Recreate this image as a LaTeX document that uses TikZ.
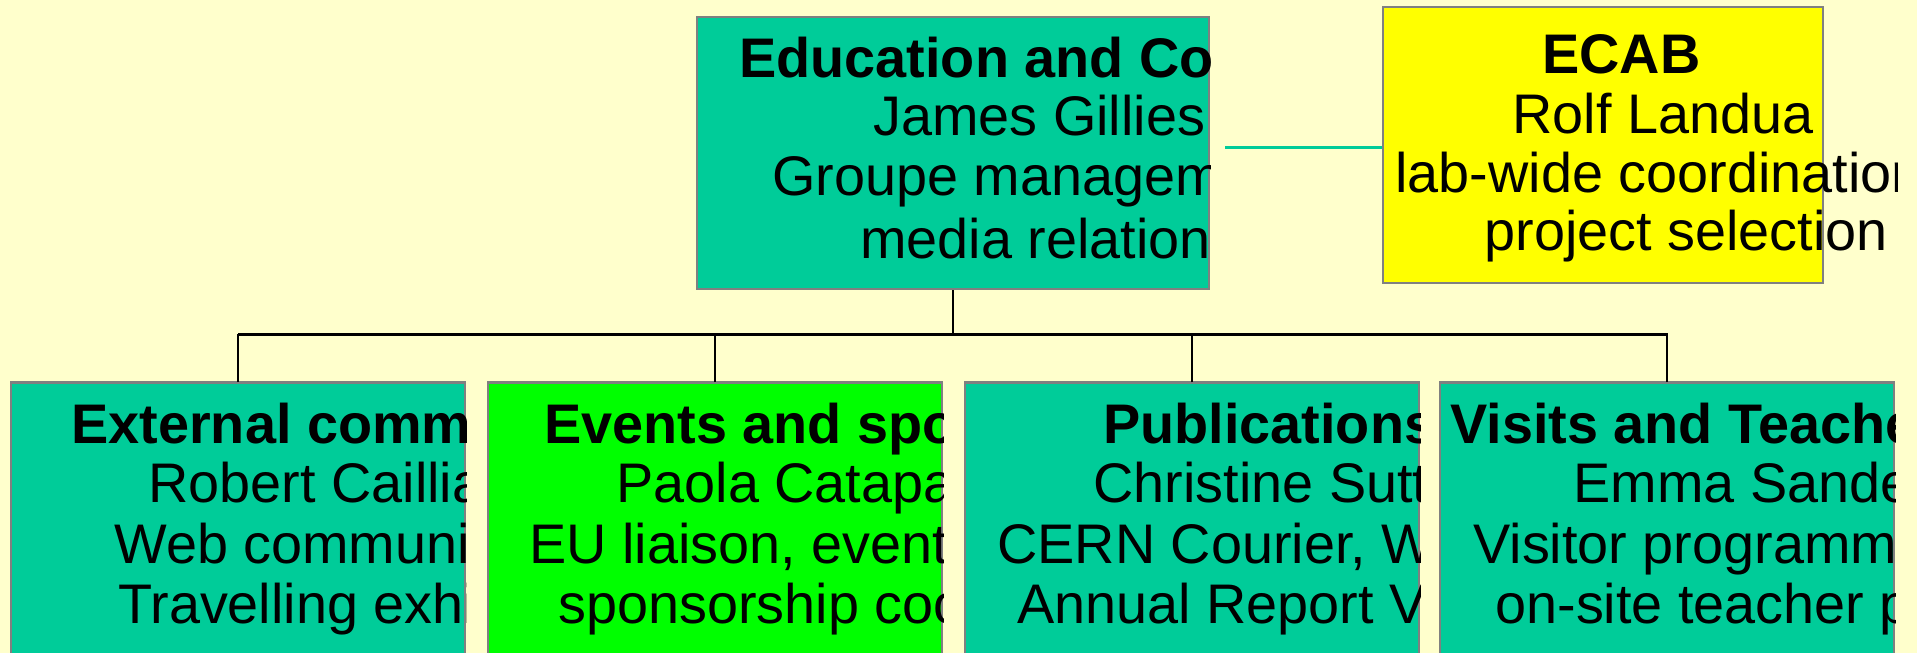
\documentclass[tikz,border=0pt]{standalone}
\usepackage{fontspec}
\setmainfont{Liberation Sans}
\definecolor{bg}{HTML}{FFFFCC}
\definecolor{teal2}{HTML}{00CC99}
\definecolor{green2}{HTML}{00FF00}
\definecolor{yellow2}{HTML}{FFFF00}
\definecolor{border}{HTML}{808080}
\begin{document}
\begin{tikzpicture}[x=0.5pt,y=-0.5pt,
  orgbox/.style={rectangle,draw=border,line width=1pt,inner sep=0pt},
  bottombox/.style={orgbox,fill=teal2,minimum width=227pt,minimum height=158.5pt},
  ln/.style={anchor=base west,inner sep=0pt,font=\fontsize{27.9}{30}\selectfont},
  ttl/.style={ln,font=\fontsize{27.9}{30}\selectfont\bfseries},
  bus/.style={black,line width=1.5pt},
  drop/.style={black,line width=0.6pt},
  link/.style={teal2,line width=1.5pt}]
\useasboundingbox (0,0) rectangle (1917,653);
\fill[bg] (0,0) rectangle (1917,653);

% boxes
\node[orgbox,fill=teal2,minimum width=256pt,minimum height=136pt] (top) at (953,153) {};
\node[orgbox,fill=yellow2,minimum width=220pt,minimum height=138pt] (ecab) at (1603,145) {};
\node[bottombox] (b1) at (238,541.5) {};
\node[bottombox,fill=green2] (b2) at (715,541.5) {};
\node[bottombox] (b3) at (1192,541.5) {};
\node[bottombox] (b4) at (1667,541.5) {};
\foreach \b in {b1,b2,b3,b4}{\draw[border,line width=1.5pt] (\b.north west) -- (\b.north east);}

% connectors
\coordinate (busL) at (238,334);
\coordinate (busR) at (1668,334);
\coordinate (linkL) at (1225,147);
\draw[drop] (top.south) -- (top.south |- busL);
\draw[bus] (busL) -- (busR);
\foreach \b in {b1,b2,b3,b4}{\draw[drop] (\b.north) -- (\b.north |- busL);}
\draw[link] (linkL) -- (linkL -| ecab.west);

% texts of the top box
\begin{scope}
\clip (top.north west) rectangle (top.south east);
\node[ttl] (t1) at (739,77) {Education and Co};
\node[ln] (t2) at (873,135) {James Gillies};
\node[ln] (t3) at (772,195) {Groupe managem};
\node[ln] (t4) at (860,258) {media relation};
\end{scope}

% texts of ECAB
\begin{scope}
\clip (0,0) rectangle (1897,653);
\node[ttl] (e1) at (1542,73) {ECAB};
\node[ln] (e2) at (1512,133) {Rolf Landua};
\node[ln] (e3) at (1395,192) {lab-wide coordination};
\node[ln] (e4) at (1484,250) {project selection};
\end{scope}

% bottom boxes
\begin{scope}
\clip (b1.north west) rectangle (b1.south east);
\node[ttl] (a1) at (71,443) {External comm};
\node[ln] (a2) at (148,502) {Robert Caillia};
\node[ln] (a3) at (114,563) {Web communi};
\node[ln] (a4) at (118,623) {Travelling exhi};
\end{scope}
\begin{scope}
\clip (b2.north west) rectangle (b2.south east);
\node[ttl] (c1) at (544,443) {Events and spo};
\node[ln] (c2) at (616,502) {Paola Catapa};
\node[ln] (c3) at (529,563) {EU liaison, event};
\node[ln] (c4) at (558,623) {sponsorship coo};
\end{scope}
\begin{scope}
\clip (b3.north west) rectangle (b3.south east);
\node[ttl] (d1) at (1103,443) {Publications};
\node[ln] (d2) at (1093,502) {Christine Sutt};
\node[ln] (d3) at (997,563) {CERN Courier, W};
\node[ln] (d4) at (1017,623) {Annual Report V};
\end{scope}
\begin{scope}
\clip (b4.north west) rectangle (b4.south east);
\node[ttl] (f1) at (1450,443) {Visits and Teache};
\node[ln] (f2) at (1573,502) {Emma Sande};
\node[ln] (f3) at (1473,563) {Visitor programm};
\node[ln] (f4) at (1495,623) {on-site teacher p};
\end{scope}
\end{tikzpicture}
\end{document}
